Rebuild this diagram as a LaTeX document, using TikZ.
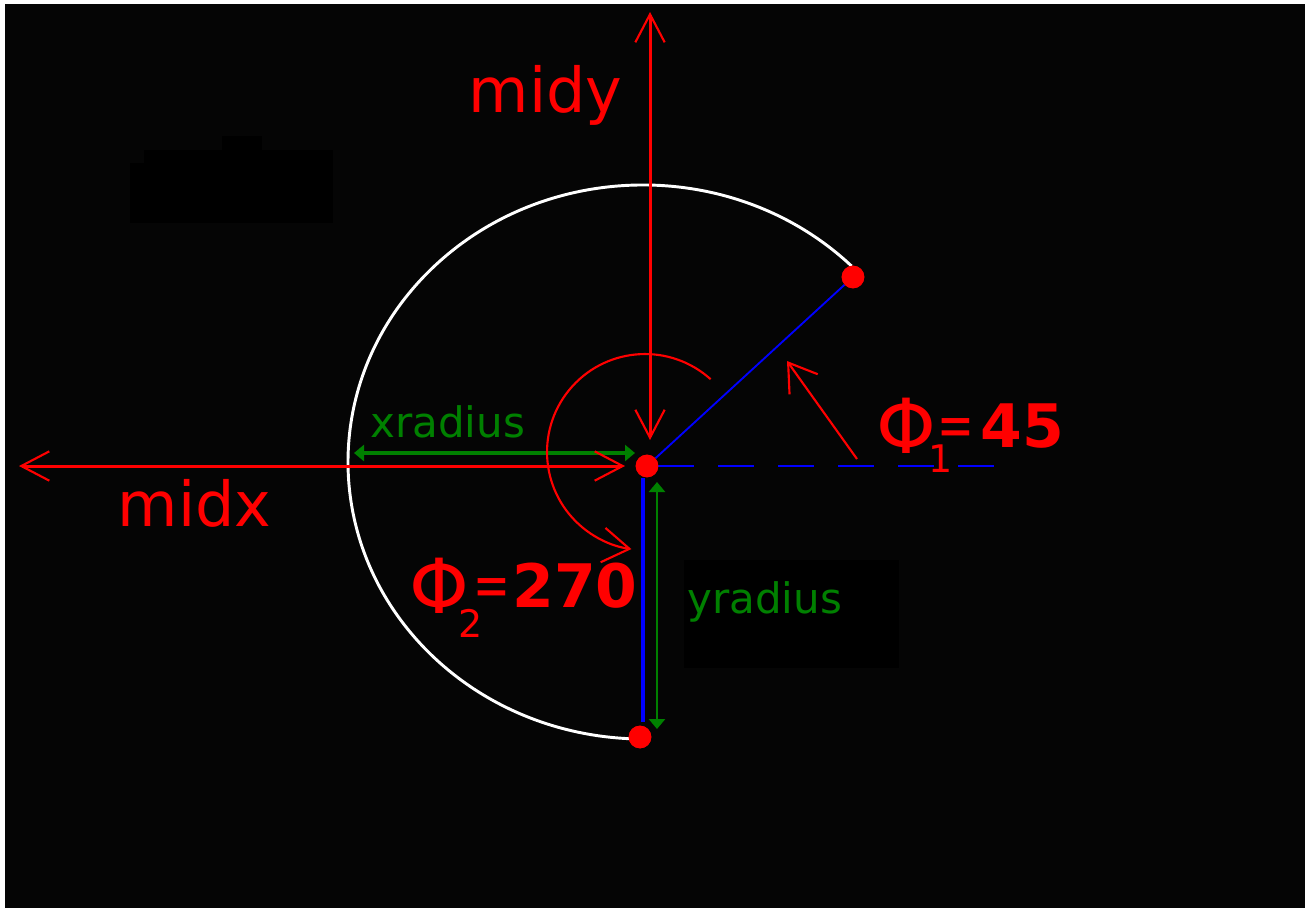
\documentclass[tikz,border=0pt]{standalone}
\usepackage{fontspec}
\setmainfont{DejaVu Sans}
\usetikzlibrary{arrows.meta}
\definecolor{bg}{RGB}{5,5,5}
\definecolor{gr}{RGB}{0,128,0}
\definecolor{rd}{RGB}{255,0,0}
\definecolor{bl}{RGB}{0,0,255}
\newcommand{\phisize}{\fontsize{57}{60}\selectfont}
\newcommand{\subsize}{\fontsize{28.5}{30}\selectfont}
\newcommand{\eqsign}{\fontsize{33}{36}\selectfont\scalebox{1}[1.4]{=}}
\begin{document}
\begin{tikzpicture}[x=0.75pt,y=-0.75pt,
  dot/.style={circle, fill=rd, inner sep=0pt, minimum size=17pt},
  redline/.style={rd, line width=2.25pt},
  redboth/.style={redline, arrows={Straight Barb[length=21pt,width=22pt,line width=1.6pt]-Straight Barb[length=21pt,width=22pt,line width=1.6pt]}},
  redtip/.style={rd, line width=1.6pt, arrows={-Straight Barb[length=20pt,width=26pt,line width=1.6pt]}},
  greenboth/.style={gr, arrows={Triangle[length=7.5pt,width=12pt]-Triangle[length=7.5pt,width=12pt]}},
  bigtxt/.style={text=rd, inner sep=0pt, font=\fontsize{46.5}{50}\selectfont},
  smalltxt/.style={text=gr, inner sep=0pt, font=\fontsize{31.5}{34}\selectfont},
  phitxt/.style={text=rd, inner sep=0pt},
  numtxt/.style={text=rd, inner sep=0pt, font=\bfseries\fontsize{45}{48}\selectfont}]
% frame and background
\fill[white] (0,0) rectangle (1305,908);
\fill[bg] (5,4) rectangle (1305,908);
\useasboundingbox (0,0) rectangle (1305,908);
% near-invisible black patches
\fill[black] (144,150) rectangle (333,223);
\fill[black] (130,163) rectangle (144,223);
\fill[black] (222,136) rectangle (262,150);
\fill[black] (684,560) rectangle (899,668);
% white elliptical arc
\draw[white, line width=2.2pt] (851.6,266.1) arc[start angle=45, end angle=270, x radius=221.25pt, y radius=207.75pt];
% dots
\node[dot] (C) at (647,466) {};
\node[dot] (P1) at (853,277) {};
\node[dot] (P2) at (640,737) {};
% blue lines
\coordinate (dashS) at (658,466);
\coordinate (dashE) at (1004,466);
\draw[bl, line width=1.6pt, dash pattern=on 27pt off 18pt] (dashS) -- (dashE);
\draw[bl, line width=1.4pt] (C) -- (P1);
\coordinate (vS) at (643,478);
\coordinate (vE) at (643,722);
\draw[bl, line width=3pt] (vS) -- (vE);
% green arrows
\coordinate (xrL) at (354,453);
\coordinate (xrR) at (635,453);
\draw[greenboth, line width=3pt] (xrL) -- (xrR);
\coordinate (yrT) at (657,482);
\coordinate (yrB) at (657,729);
\draw[greenboth, line width=2pt] (yrT) -- (yrB);
% red axes
\coordinate (mxL) at (19,466);
\coordinate (mxR) at (625,466);
\draw[redboth] (mxL) -- (mxR);
\coordinate (myT) at (650,12);
\coordinate (myB) at (650,440);
\draw[redboth] (myT) -- (myB);
% theta arrows
\coordinate (t1tail) at (857,459);
\coordinate (t1tip) at (787,361);
\draw[redtip] (t1tail) -- (t1tip);
\coordinate (t2start) at (710.6,379.2);
\draw[redtip] (t2start) arc[start angle=48, end angle=262, radius=73.5pt];
% dots on top
\node[dot] at (C) {};
\node[dot] at (P1) {};
\node[dot] at (P2) {};
% texts
\node[bigtxt, anchor=base west] (midy) at (468.5,112) {midy};
\node[bigtxt, anchor=base west] (midx) at (117.5,526) {midx};
\node[smalltxt, anchor=base west] (xrad) at (370,437) {xradius};
\node[smalltxt, anchor=base west] (yrad) at (687,613) {yradius};
% theta 1
\node[phitxt, anchor=base west] (phi1) at (876,453)
  {{\phisize Φ}\kern-6pt\raisebox{-14.25pt}{\subsize 1}\kern-11.25pt\raisebox{5.25pt}{\eqsign}};
\node[numtxt, anchor=base west] (n45) at (980,447) {45};
% theta 2
\node[phitxt, anchor=base west] (phi2) at (409,613)
  {{\phisize Φ}\kern-7.875pt\raisebox{-18pt}{\subsize 2}\kern-7.125pt\raisebox{5.25pt}{\eqsign}};
\node[numtxt, anchor=base west] (n270) at (512,607) {270};
\end{tikzpicture}
\end{document}
